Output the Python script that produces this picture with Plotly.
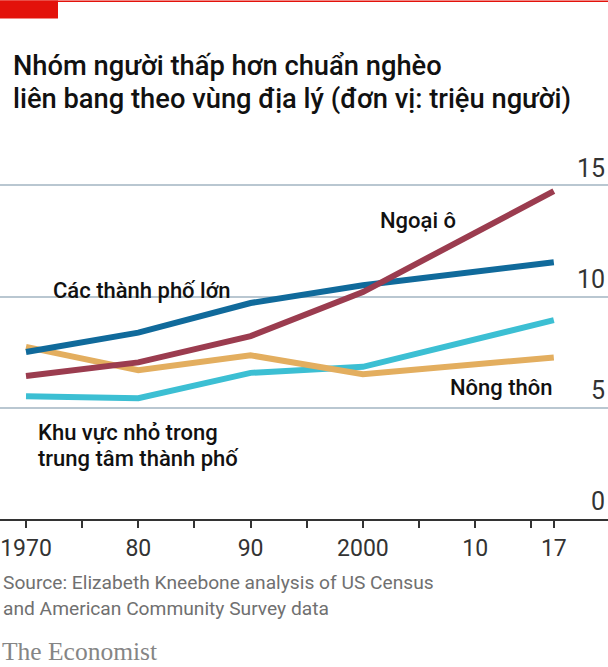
import plotly.graph_objects as go

years = [1970, 1980, 1990, 2000, 2017]
big_cities = [7.51, 8.38, 9.71, 10.51, 11.54]
suburbs = [6.43, 7.04, 8.22, 10.20, 14.74]
small_metros = [5.52, 5.43, 6.57, 6.84, 8.94]
rural = [7.74, 6.69, 7.36, 6.51, 7.26]

x_tickvals = [1970, 1975, 1980, 1985, 1990, 1995, 2000, 2005, 2010, 2015, 2017]
x_ticktext = ["1970", "", "80", "", "90", "", "2000", "", "10", "", "17"]
y_tickvals = [0, 5, 10, 15]
y_ticktext = ["0", "5", "10", "15"]

title_lines = ["Nhóm người thấp hơn chuẩn nghèo",
               "liên bang theo vùng địa lý (đơn vị: triệu người)"]
source_lines = ["Source: Elizabeth Kneebone analysis of US Census",
                "and American Community Survey data"]

W, H = 608, 667
B = 519            # pixel of y=0
PPU = 22.267       # pixels per unit on y
YMAX = 15.15
T = B - YMAX * PPU  # plot top pixel


def px(x):
    return x / W


def py(y):
    return (B - y) / (B - T)


NARROW = "Liberation Sans Narrow, Arial Narrow, Roboto, sans-serif"
BOLD = "Roboto, Arial, sans-serif"

fig = go.Figure()
series = [
    ("Khu vực nhỏ trong trung tâm thành phố", small_metros, "#3cbfd3"),
    ("Nông thôn", rural, "#e3ae5f"),
    ("Các thành phố lớn", big_cities, "#106a9b"),
    ("Ngoại ô", suburbs, "#9b3c4f"),
]
for name, vals, col in series:
    fig.add_trace(go.Scatter(x=years, y=vals, mode="lines", name=name,
                             line=dict(color=col, width=6), hoverinfo="skip"))

x0 = 1970 - 26 / 11.23
x1 = 1970 + (W - 26) / 11.23

fig.update_layout(
    width=W, height=H,
    margin=dict(l=0, r=0, t=T, b=H - B, pad=0),
    paper_bgcolor="white", plot_bgcolor="white",
    showlegend=False,
    xaxis=dict(range=[x0, x1], tickvals=x_tickvals, ticktext=x_ticktext,
               ticks="outside", ticklen=7, tickwidth=1.5, tickcolor="#333333",
               showline=True, linecolor="#333333", linewidth=2,
               showgrid=False, zeroline=False, ticklabeloverflow="allow",
               tickfont=dict(family=NARROW, size=23, color="#333333")),
    yaxis=dict(range=[0, YMAX], tickvals=y_tickvals, ticktext=y_ticktext,
               side="right", ticklabelposition="inside top",
               ticklabeloverflow="allow",
               showgrid=True, gridcolor="#b9c7d1", gridwidth=1.5,
               zeroline=False, showline=False, ticks="",
               tickfont=dict(family=NARROW, size=25, color="#333333")),
)

ann = []


def add(text, x, y, xanchor="left", size=22, family=BOLD, color="#111111", weight=500):
    ann.append(dict(text=text, x=px(x), y=py(y), xref="paper", yref="paper",
                    xanchor=xanchor, yanchor="middle", showarrow=False,
                    font=dict(family=family, size=size, color=color, weight=weight)))


add(title_lines[0], 11, 66, size=27.3)
add(title_lines[1], 11, 99, size=27.3)
add("Các thành phố lớn", 51, 290, size=22)
add("Ngoại ô", 378, 220, size=22)
add("Nông thôn", 555, 387, xanchor="right", size=22)
add("Khu vực nhỏ trong", 36, 432, size=22)
add("trung tâm thành phố", 36, 458, size=22)
add(source_lines[0], 1, 583, size=19.2, family=NARROW, color="#707070", weight=400)
add(source_lines[1], 1, 609, size=19.2, family=NARROW, color="#707070", weight=400)
add("The Economist", 0, 652, size=25.5, family="Liberation Serif, DejaVu Serif, serif",
    color="#858585", weight=400)
fig.update_layout(annotations=ann)

fig.add_shape(type="rect", xref="paper", yref="paper", x0=0, x1=px(58),
              y0=py(18), y1=py(0), fillcolor="#e3120b", line_width=0, layer="above")
fig.add_shape(type="rect", xref="paper", yref="paper", x0=0, x1=1,
              y0=py(1.5), y1=py(0), fillcolor="#e3120b", line_width=0, layer="above")

fig.write_html("out.html")
